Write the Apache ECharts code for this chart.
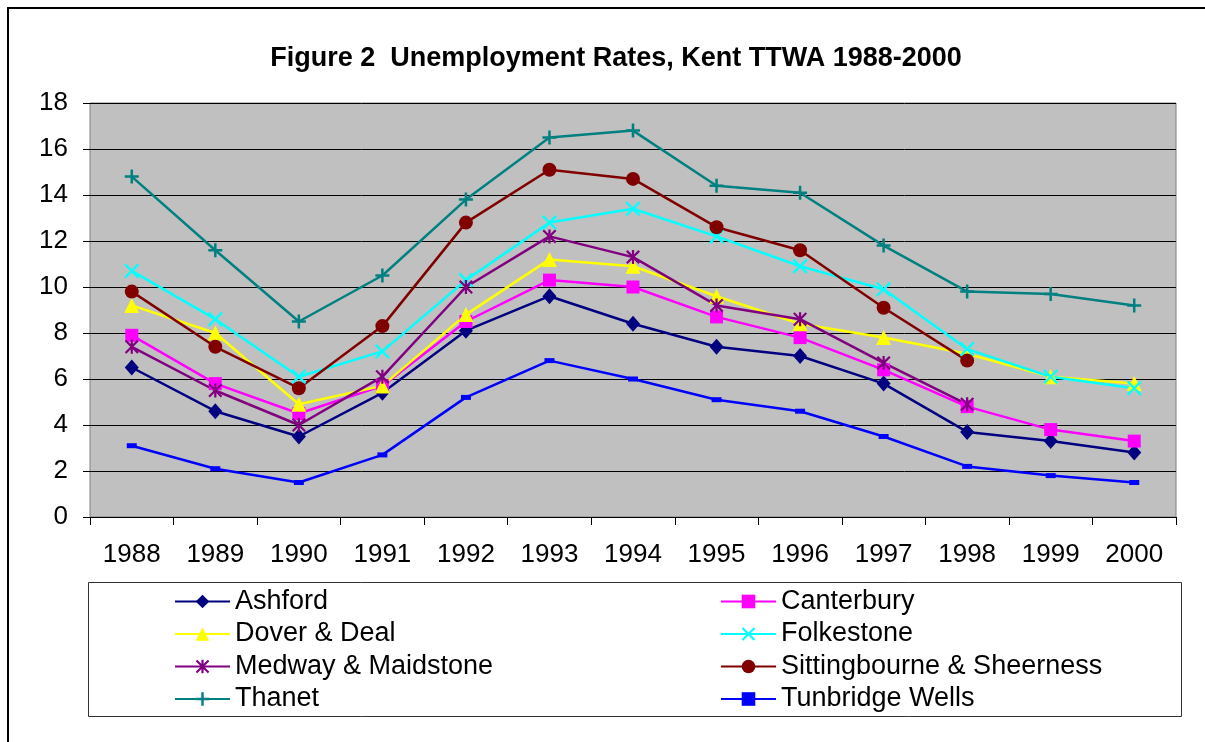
<!DOCTYPE html>
<html>
<head>
<meta charset="utf-8">
<script src="https://cdn.jsdelivr.net/npm/echarts@6/dist/echarts.min.js"></script>
<style>
  html, body { margin: 0; padding: 0; background: #fff; }
  #chart { width: 1205px; height: 742px; }
</style>
</head>
<body>
<div id="chart"></div>
<script>
var years = ['1988', '1989', '1990', '1991', '1992', '1993', '1994', '1995', '1996', '1997', '1998', '1999', '2000'];
var ashford = [6.5, 4.6, 3.5, 5.4, 8.1, 9.6, 8.4, 7.4, 7.0, 5.8, 3.7, 3.3, 2.8];
var canterbury = [7.9, 5.8, 4.5, 5.7, 8.5, 10.3, 10.0, 8.7, 7.8, 6.4, 4.8, 3.8, 3.3];
var doverDeal = [9.2, 8.0, 4.9, 5.7, 8.8, 11.2, 10.9, 9.6, 8.4, 7.8, 7.1, 6.1, 5.8];
var folkestone = [10.7, 8.6, 6.1, 7.2, 10.3, 12.8, 13.4, 12.2, 10.9, 9.9, 7.3, 6.1, 5.6];
var medwayMaidstone = [7.4, 5.5, 4.0, 6.1, 10.0, 12.2, 11.3, 9.2, 8.6, 6.7, 4.9, null, null];
var sittingbourne = [9.8, 7.4, 5.6, 8.3, 12.8, 15.1, 14.7, 12.6, 11.6, 9.1, 6.8, null, null];
var thanet = [14.8, 11.6, 8.5, 10.5, 13.8, 16.5, 16.8, 14.4, 14.1, 11.8, 9.8, 9.7, 9.2];
var tunbridgeWells = [3.1, 2.1, 1.5, 2.7, 5.2, 6.8, 6.0, 5.1, 4.6, 3.5, 2.2, 1.8, 1.5];

var FONT = '"Liberation Sans", Arial, sans-serif';

// marker shapes drawn as filled outlines
var plusPath = 'path://M4.1,0h1.8v10h-1.8zM0,4.1h10v1.8h-10z';
var crossPath = 'path://M0,1.1L1.1,0L5,3.9L8.9,0L10,1.1L6.1,5L10,8.9L8.9,10L5,6.1L1.1,10L0,8.9L3.9,5z';
var starPath = 'path://M0,1.1L1.1,0L5,3.9L8.9,0L10,1.1L6.1,5L10,8.9L8.9,10L5,6.1L1.1,10L0,8.9L3.9,5zM4.2,0h1.6v10h-1.6z';

function line(name, data, color, symbol, size) {
  return {
    name: name,
    type: 'line',
    data: data,
    symbol: symbol,
    symbolSize: size,
    showAllSymbol: true,
    connectNulls: false,
    lineStyle: { color: color, width: 2.5 },
    itemStyle: { color: color },
    emphasis: { disabled: true }
  };
}

var dom = document.getElementById('chart');
var myChart = echarts.init(dom, null, { renderer: 'canvas' });

var legendText = { fontSize: 27, lineHeight: 27, color: '#000', fontFamily: FONT };

var option = {
  animation: false,
  backgroundColor: '#fff',
  textStyle: { fontFamily: FONT },
  title: {
    text: 'Figure 2  Unemployment Rates, Kent TTWA 1988-2000',
    left: 611,
    top: 40,
    textAlign: 'center',
    textStyle: { fontFamily: FONT, fontSize: 27, fontWeight: 'bold', color: '#000' }
  },
  grid: {
    left: 90, right: 29, top: 103, bottom: 225,
    show: true,
    backgroundColor: '#c0c0c0',
    borderColor: '#808080',
    borderWidth: 1,
    outerBoundsMode: 'none'
  },
  xAxis: {
    type: 'category',
    data: years,
    boundaryGap: true,
    axisLine: { lineStyle: { color: '#000', width: 1 } },
    axisTick: { show: true, interval: 0, alignWithLabel: false, length: 8, lineStyle: { color: '#000' } },
    axisLabel: { interval: 0, margin: 25, fontSize: 26, color: '#000', fontFamily: FONT }
  },
  yAxis: {
    type: 'value',
    min: 0, max: 18, interval: 2,
    axisLine: { show: false },
    axisTick: { show: true, length: 7, lineStyle: { color: '#000' } },
    axisLabel: { margin: 22, fontSize: 26, color: '#000', fontFamily: FONT },
    splitLine: { show: true, lineStyle: { color: '#000', width: 1 } }
  },
  legend: [
    {
      orient: 'vertical',
      left: 174, top: 588,
      padding: 0,
      itemWidth: 55, itemHeight: 17, itemGap: 5.5,
      data: ['Ashford', 'Dover & Deal', 'Medway & Maidstone', 'Thanet'],
      textStyle: legendText
    },
    {
      orient: 'vertical',
      left: 720, top: 588,
      padding: 0,
      itemWidth: 55, itemHeight: 17, itemGap: 5.5,
      data: ['Canterbury', 'Folkestone', 'Sittingbourne & Sheerness', 'Tunbridge Wells'],
      textStyle: legendText
    }
  ],
  graphic: [
    {
      type: 'rect', silent: true, z: -1,
      shape: { x: 8, y: 8, width: 1215, height: 760 },
      style: { fill: 'none', stroke: '#000', lineWidth: 2 }
    },
    {
      type: 'rect', silent: true, z: -1,
      shape: { x: 88.5, y: 582.5, width: 1093, height: 134 },
      style: { fill: '#fff', stroke: '#333', lineWidth: 1 }
    }
  ],
  series: [
    line('Ashford', ashford, '#000080', 'diamond', [14, 16]),
    line('Canterbury', canterbury, '#ff00ff', 'rect', 13),
    line('Dover & Deal', doverDeal, '#ffff00', 'triangle', 15),
    line('Folkestone', folkestone, '#00ffff', crossPath, 15),
    line('Medway & Maidstone', medwayMaidstone, '#800080', starPath, 14),
    line('Sittingbourne & Sheerness', sittingbourne, '#800000', 'circle', 14),
    line('Thanet', thanet, '#008080', plusPath, 14),
    line('Tunbridge Wells', tunbridgeWells, '#0000ff', 'rect', [10, 5])
  ]
};

if (option && typeof option === 'object') {
  myChart.setOption(option);
}

window.addEventListener('resize', myChart.resize);
</script>
</body>
</html>
